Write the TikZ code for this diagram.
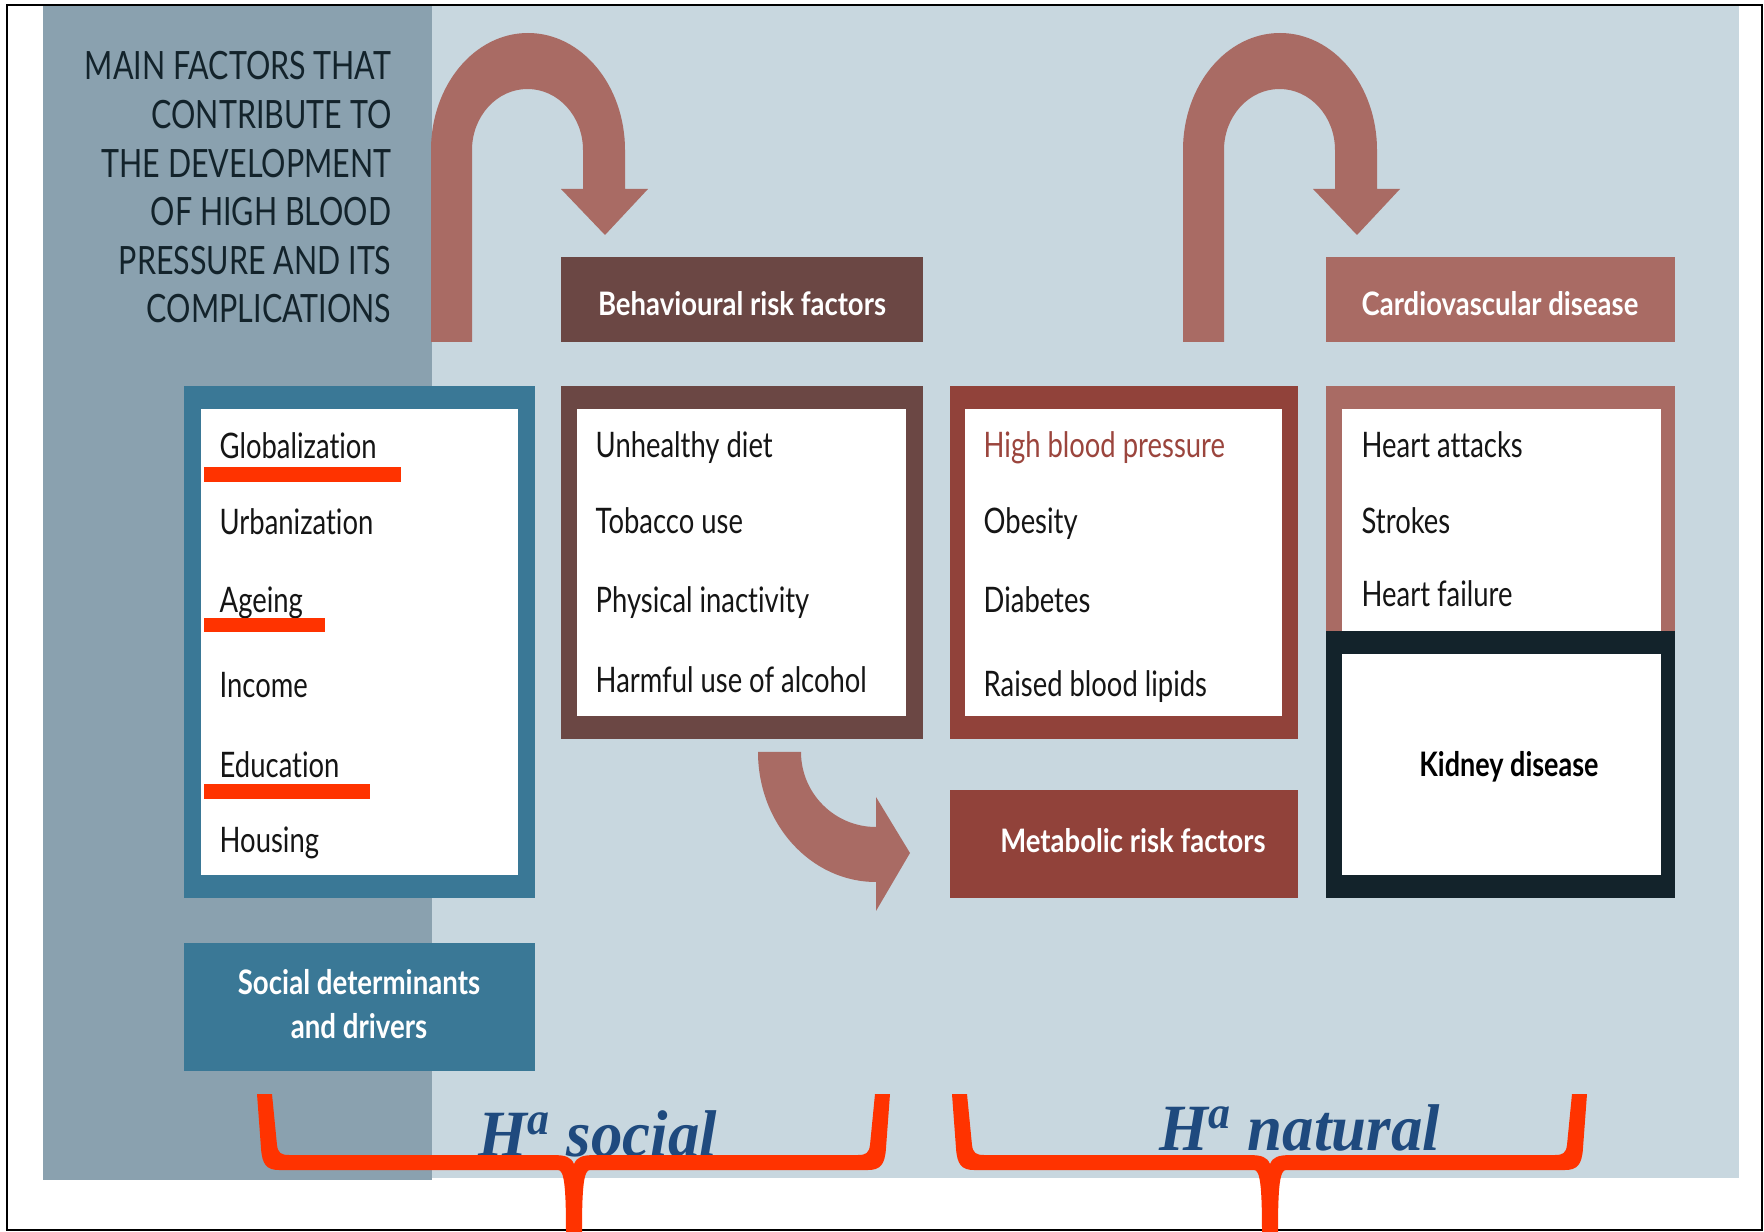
\documentclass[tikz,border=0pt]{standalone}
\usepackage{fontspec}
\setmainfont{Lato}[FakeStretch=0.78,Ligatures=NoCommon]
\newfontfamily\headfont{Lato}[FakeStretch=0.85,Ligatures=NoCommon]
\newfontfamily\sochfont{Lato}[FakeStretch=0.82,Ligatures=NoCommon]
\newfontfamily\kidfont{Lato}[FakeStretch=0.8,Ligatures=NoCommon]
\newfontfamily\serifbi{Liberation Serif}[FakeStretch=0.95]

\definecolor{bgpale}{HTML}{C8D7DF}
\definecolor{bgside}{HTML}{8AA1AF}
\definecolor{socblue}{HTML}{3A7896}
\definecolor{behbrown}{HTML}{6B4744}
\definecolor{metred}{HTML}{91423A}
\definecolor{cvdrose}{HTML}{A96B64}
\definecolor{kidnavy}{HTML}{13232B}
\definecolor{markred}{HTML}{FF3300}
\definecolor{hblue}{HTML}{1F4A7E}
\definecolor{ink}{HTML}{151515}
\definecolor{hbpred}{HTML}{9B453D}

\tikzset{
  item/.style={anchor=base west, inner sep=0, text=ink, font=\fontsize{10}{12}\selectfont},
  head/.style={anchor=base, inner sep=0, text=white, font=\fontsize{9.2}{11}\selectfont\headfont\bfseries},
  fatarrow/.style={fill=cvdrose},
  brace/.style={fill=markred},
  hlabel/.style={anchor=base west, inner sep=0, text=hblue, font=\fontsize{18.8}{22}\selectfont\serifbi\bfseries\itshape}
}

\newcommand{\hbrace}[3]{%
  \fill[brace] (#1,1094) -- ({#1+15},1094) -- ({#1+20},1145)
    .. controls ({#1+21},1153) and ({#1+24},1155) .. ({#1+32},1155) -- ({#3-22},1155)
    .. controls ({#3-8},1155) and ({#3-3},1157) .. (#3,1164)
    .. controls ({#3+3},1157) and ({#3+8},1155) .. ({#3+22},1155) -- ({#2-32},1155)
    .. controls ({#2-24},1155) and ({#2-21},1153) .. ({#2-20},1145) -- ({#2-15},1094) -- (#2,1094)
    -- ({#2-4},1148) .. controls ({#2-5},1165) and ({#2-10},1170) .. ({#2-22},1170) -- ({#3+16},1170)
    .. controls ({#3+10},1170) and ({#3+8},1185) .. ({#3+8},1232) -- ({#3-8},1232)
    .. controls ({#3-8},1185) and ({#3-10},1170) .. ({#3-16},1170) -- ({#1+22},1170)
    .. controls ({#1+10},1170) and ({#1+5},1165) .. ({#1+4},1148) -- cycle;}

\begin{document}
\begin{tikzpicture}[x=0.1mm,y=-0.1mm]
  \useasboundingbox (0,0) rectangle (1764,1232);
  \fill[white] (0,0) rectangle (1764,1232);
  \fill[bgpale] (43,5) rectangle (1739,1178);
  \fill[bgside] (43,5) rectangle (432,1180);

  \node[anchor=north east, inner sep=0, align=right, text=kidnavy,
        font=\fontsize{11.1}{13.83}\selectfont] (title) at (392,51)
       {MAIN FACTORS THAT\\CONTRIBUTE TO\\THE DEVELOPMENT\\OF HIGH BLOOD\\PRESSURE AND ITS\\COMPLICATIONS};

  % U-turn arrows
  \fill[fatarrow] (431,342) -- (431,150) arc[start angle=180, end angle=360, x radius=97, y radius=117]
    -- (625,189) -- (648,189) -- (605,235) -- (561,189) -- (583,189) -- (583,150)
    arc[start angle=360, end angle=180, x radius=55.5, y radius=61] -- (472,342) -- cycle;
  \fill[fatarrow, shift={(752,0)}] (431,342) -- (431,150) arc[start angle=180, end angle=360, x radius=97, y radius=117]
    -- (625,189) -- (648,189) -- (605,235) -- (561,189) -- (583,189) -- (583,150)
    arc[start angle=360, end angle=180, x radius=55.5, y radius=61] -- (472,342) -- cycle;
  \fill[fatarrow] (758,752) arc[start angle=180, end angle=90, x radius=118, y radius=130]
    -- (876,911) -- (910,853) -- (876,797) -- (876,827) arc[start angle=90, end angle=180, radius=75] -- cycle;

  % headers
  \fill[behbrown] (561,257) rectangle (923,342);
  \node[head] (behhead) at (742,316) {Behavioural risk factors};
  \fill[cvdrose] (1326,257) rectangle (1675,342);
  \node[head] (cvdhead) at (1500,316) {Cardiovascular disease};
  \fill[metred] (950,790) rectangle (1298,898);
  \node[head] (methead) at (1133,852) {Metabolic risk factors};
  \fill[socblue] (184,943) rectangle (535,1071);
  \node[anchor=north, inner sep=0, align=center, text=white,
        font=\fontsize{9.6}{12.5}\selectfont\sochfont\bfseries] (sochead) at (359,969) {Social determinants\\and drivers};

  % lists
  \fill[socblue] (184,386) rectangle (535,898);
  \fill[white] (201,409) rectangle (518,875);
  \node[item] (glob) at (219,459) {Globalization};
  \node[item] (urban) at (219,535) {Urbanization};
  \node[item] (age) at (219,613) {Ageing};
  \node[item] (income) at (219,698) {Income};
  \node[item] (edu) at (219,778) {Education};
  \node[item] (house) at (219,852) {Housing};
  \fill[markred] (204,467) rectangle (401,482);
  \fill[markred] (204,618) rectangle (325,632);
  \fill[markred] (204,784) rectangle (370,799);

  \fill[behbrown] (561,386) rectangle (923,739);
  \fill[white] (577,409) rectangle (906,716);
  \node[item] (diet) at (595,458) {Unhealthy diet};
  \node[item] (tobacco) at (595,534) {Tobacco use};
  \node[item] (inact) at (595,613) {Physical inactivity};
  \node[item] (alcohol) at (595,693) {Harmful use of alcohol};

  \fill[metred] (950,386) rectangle (1298,739);
  \fill[white] (965,409) rectangle (1282,716);
  \node[item, text=hbpred] (hbp) at (983,458) {High blood pressure};
  \node[item] (obesity) at (983,534) {Obesity};
  \node[item] (diabetes) at (983,613) {Diabetes};
  \node[item] (lipids) at (983,697) {Raised blood lipids};

  \fill[cvdrose] (1326,386) rectangle (1675,631);
  \fill[white] (1342,409) rectangle (1661,631);
  \node[item] (attacks) at (1361,458) {Heart attacks};
  \node[item] (strokes) at (1361,534) {Strokes};
  \node[item] (failure) at (1361,607) {Heart failure};
  \fill[kidnavy] (1326,631) rectangle (1675,898);
  \fill[white] (1342,654) rectangle (1661,875);
  \node[anchor=base, inner sep=0, text=black, font=\fontsize{9.6}{11}\selectfont\kidfont\bfseries] (kidney) at (1509,777) {Kidney disease};

  \draw[line width=0.25mm] (7,5) rectangle (1762,1230);

  % braces
  \node[hlabel] (hsocial) at (478,1157) {H\textsuperscript{a} social};
  \node[hlabel] (hnatural) at (1159,1151) {H\textsuperscript{a} natural};
  \hbrace{257}{890}{574}
  \hbrace{952}{1587}{1270}
\end{tikzpicture}
\end{document}
